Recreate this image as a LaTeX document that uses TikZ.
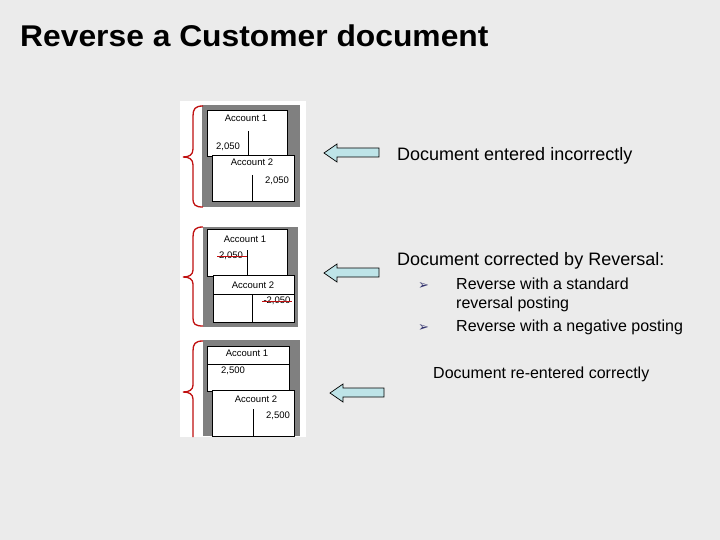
\documentclass[tikz,border=0pt]{standalone}
\usepackage{fontspec}
\setmainfont{Liberation Sans}
\newfontfamily\dejavu{DejaVu Sans}
\definecolor{bgc}{RGB}{235,235,235}
\definecolor{bracered}{RGB}{192,16,16}
\definecolor{boxgrey}{RGB}{128,128,128}
\definecolor{arrowfill}{RGB}{190,228,232}
\definecolor{bulletc}{RGB}{51,51,110}
\begin{document}
\begin{tikzpicture}[x=1pt,y=-1pt,
  acct/.style={draw=black,line width=0.6pt,fill=white},
  tline/.style={draw=black,line width=0.6pt},
  small/.style={font=\fontsize{9.5}{10}\selectfont,inner sep=0pt},
  brace/.style={draw=bracered,line width=1.3pt},
  blockarrow/.style={draw=black,line width=0.7pt,fill=arrowfill},
  big/.style={font=\fontsize{18}{20}\selectfont,anchor=base west,inner sep=0pt},
  med/.style={font=\fontsize{16}{18}\selectfont,anchor=base west,inner sep=0pt},
  bul/.style={font=\dejavu\fontsize{13}{14}\selectfont,text=bulletc,anchor=base west,inner sep=0pt},
  strike/.style={draw=bracered,line width=0.8pt}]
\useasboundingbox (0,0) rectangle (720,540);
\fill[bgc] (0,0) rectangle (720,540);
% title
\node[font=\bfseries\fontsize{30}{32}\selectfont,anchor=base west,inner sep=0pt,xscale=1.06] (title) at (20,47) {Reverse a Customer document};
% white column
\fill[white] (180,101) rectangle (306,437);
% ---------- panel 1
\fill[boxgrey] (202,105) rectangle (300,207);
\draw[acct] (207,110) rectangle (287,156);
\node[small] (p1a1) at (246,118) {Account 1};
\draw[tline] (248,131) -- (248,156);
\node[small] (p1v1) at (228,147) {2,050};
\draw[acct] (212,155) rectangle (294,201);
\node[small] (p1a2) at (252,162) {Account 2};
\draw[tline] (252,175) -- (252,201);
\node[small] (p1v2) at (277,181) {2,050};
\draw[brace] (203,106) .. controls (195,106) and (193,109) .. (193,116) -- (193,149)
  .. controls (193,155) and (189,157) .. (183,157)
  .. controls (189,157) and (193,159) .. (193,165) -- (193,198)
  .. controls (193,205) and (195,207) .. (203,207);
% ---------- panel 2
\fill[boxgrey] (203,227) rectangle (298,327);
\draw[acct] (207,229) rectangle (287,276);
\node[small] (p2a1) at (245,239) {Account 1};
\draw[tline] (247,250) -- (247,276);
\node[small] (p2v1) at (231,256) {2,050};
\draw[strike] (217,256) -- (247,256);
\draw[acct] (213,275) rectangle (294,322);
\node[small] (p2a2) at (253,285) {Account 2};
\draw[tline] (213,294) -- (294,294);
\draw[tline] (252,294) -- (252,322);
\node[small] (p2v2) at (277,301) {-2,050};
\draw[strike] (262,301) -- (292,301);
\draw[brace] (203,227) .. controls (195,227) and (193,230) .. (193,237) -- (193,270)
  .. controls (193,275) and (189,277) .. (183,277)
  .. controls (189,277) and (193,279) .. (193,284) -- (193,318)
  .. controls (193,324) and (195,326) .. (203,326);
% ---------- panel 3
\fill[boxgrey] (203,340) rectangle (300,436);
\draw[acct] (207,346) rectangle (289,391);
\node[small] (p3a1) at (247,353) {Account 1};
\draw[tline] (207,364) -- (289,364);
\node[small] (p3v1) at (233,371) {2,500};
\draw[acct] (212,390) rectangle (294,436);
\node[small] (p3a2) at (256,399) {Account 2};
\draw[tline] (253,409) -- (253,436);
\node[small] (p3v2) at (278,416) {2,500};
\draw[brace] (203,341) .. controls (195,341) and (193,344) .. (193,351) -- (193,385)
  .. controls (193,390) and (189,392) .. (183,392)
  .. controls (189,392) and (193,394) .. (193,399) -- (193,437);
% ---------- arrows
\draw[blockarrow] (379,148) -- (337,148) -- (337,144) -- (324,153) -- (337,162) -- (337,157) -- (379,157) -- cycle;
\draw[blockarrow] (379,268) -- (337,268) -- (337,264) -- (324,273) -- (337,282) -- (337,277) -- (379,277) -- cycle;
\draw[blockarrow] (384,388) -- (343,388) -- (343,384) -- (330,393) -- (343,402) -- (343,397) -- (384,397) -- cycle;
% ---------- texts
\node[big] (t1) at (397,161) {Document entered incorrectly};
\node[big] (t2) at (397,265) {Document corrected by Reversal:};
\node[bul] (b1) at (418,289) {➢};
\node[med] (t3) at (456,289) {Reverse with a standard};
\node[med] (t4) at (456,308) {reversal posting};
\node[bul] (b2) at (418,331) {➢};
\node[med] (t5) at (456,331) {Reverse with a negative posting};
\node[med] (t6) at (433,378) {Document re-entered correctly};
\end{tikzpicture}
\end{document}
